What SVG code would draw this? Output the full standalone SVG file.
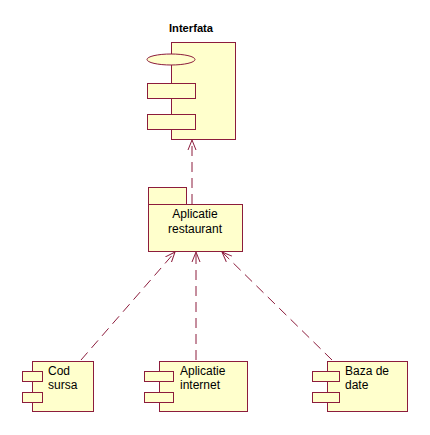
<svg xmlns="http://www.w3.org/2000/svg" width="430" height="435" viewBox="0 0 430 435">
<defs>
<style>
.b{fill:#FFFFCC;stroke:#8C1C3C;stroke-width:1}
.c{fill:none;stroke:#8C1C3C;stroke-width:1;stroke-dasharray:10,6}
.t{font-family:"Liberation Sans",Arial,sans-serif;font-size:12px;fill:#000}
</style>
<marker id="ah" viewBox="0 0 10 10" refX="10" refY="5" markerWidth="10" markerHeight="10" markerUnits="userSpaceOnUse" orient="auto">
<path d="M0,1 L10,5 L0,9" fill="none" stroke="#8C1C3C" stroke-width="1"/>
</marker>
</defs>
<rect width="430" height="435" fill="#fff"/>
<g id="connectors">
<line class="c" x1="192" y1="204" x2="192" y2="140" marker-end="url(#ah)"/>
<line class="c" x1="81" y1="360" x2="175" y2="252" marker-end="url(#ah)"/>
<line class="c" x1="196" y1="360" x2="196" y2="252" marker-end="url(#ah)"/>
<line class="c" x1="332" y1="360" x2="222" y2="252" marker-end="url(#ah)"/>
</g>
<g id="interfata">
<text x="191" y="32" text-anchor="middle" font-family="'Liberation Sans',Arial,sans-serif" font-size="10" font-weight="bold" textLength="44" lengthAdjust="spacingAndGlyphs">Interfata</text>
<rect class="b" x="171.5" y="42.5" width="64" height="97"/>
<ellipse class="b" cx="171" cy="59.5" rx="24" ry="5.5"/>
<rect class="b" x="147.5" y="83.5" width="48" height="15"/>
<rect class="b" x="147.5" y="114.5" width="48" height="15"/>
</g>
<g id="aplicatie-restaurant">
<rect class="b" x="148.5" y="187.5" width="38" height="17"/>
<rect class="b" x="148.5" y="204.5" width="94" height="47"/>
<text class="t" x="195" y="218" text-anchor="middle">Aplicatie</text>
<text class="t" x="195" y="233" text-anchor="middle">restaurant</text>
</g>
<g id="cod-sursa">
<rect class="b" x="32.5" y="361.5" width="61" height="50"/>
<rect class="b" x="22.5" y="371.5" width="20" height="10"/>
<rect class="b" x="22.5" y="392.5" width="20" height="10"/>
<text class="t" x="48" y="375">Cod</text>
<text class="t" x="48" y="389">sursa</text>
</g>
<g id="aplicatie-internet">
<rect class="b" x="159.5" y="361.5" width="88" height="50"/>
<rect class="b" x="144.5" y="371.5" width="29" height="10"/>
<rect class="b" x="144.5" y="392.5" width="29" height="10"/>
<text class="t" x="180" y="375">Aplicatie</text>
<text class="t" x="180" y="389">internet</text>
</g>
<g id="baza-de-date">
<rect class="b" x="327.5" y="361.5" width="80" height="50"/>
<rect class="b" x="312.5" y="371.5" width="27" height="10"/>
<rect class="b" x="312.5" y="392.5" width="27" height="10"/>
<text class="t" x="345" y="375">Baza de</text>
<text class="t" x="345" y="389">date</text>
</g>
</svg>
